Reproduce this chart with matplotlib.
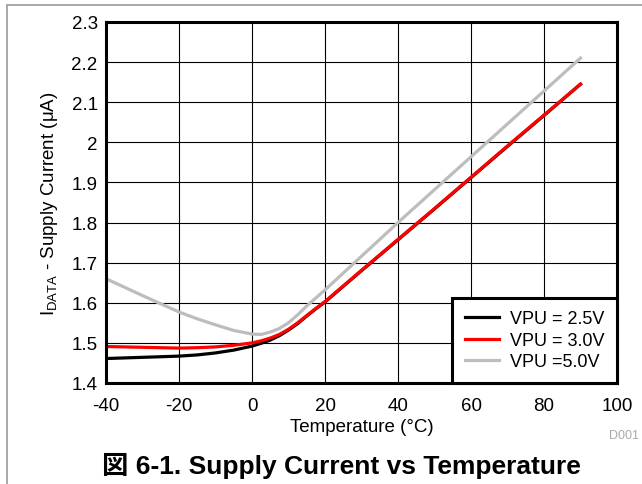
import matplotlib.pyplot as plt
from matplotlib.patches import Rectangle
from matplotlib.ticker import FuncFormatter

plt.rcParams['font.family'] = ['Liberation Sans', 'Noto Sans CJK JP', 'DejaVu Sans']
plt.rcParams['mathtext.fontset'] = 'custom'
plt.rcParams['mathtext.rm'] = 'Liberation Sans'
plt.rcParams['mathtext.it'] = 'Liberation Sans:italic'
plt.rcParams['axes.unicode_minus'] = False

# temperature points (°C)
temp = [-40, -30, -20, -15, -10, -5, 0, 2.5, 5, 7.5, 10, 12.5, 15, 17.5, 20,
        25, 30, 40, 50, 60, 70, 80, 90]

# supply current (uA) for each pull-up voltage
vpu_25 = [1.461, 1.464, 1.467, 1.470, 1.475, 1.482, 1.492, 1.499, 1.507, 1.518,
          1.532, 1.548, 1.567, 1.585, 1.602, 1.641, 1.680, 1.757, 1.834, 1.912,
          1.990, 2.067, 2.145]
vpu_30 = [1.491, 1.489, 1.487, 1.488, 1.490, 1.494, 1.500, 1.505, 1.512, 1.521,
          1.534, 1.550, 1.568, 1.586, 1.603, 1.642, 1.681, 1.758, 1.835, 1.913,
          1.991, 2.068, 2.145]
vpu_50 = [1.660, 1.618, 1.577, 1.560, 1.545, 1.531, 1.522, 1.521, 1.527, 1.536,
          1.550, 1.570, 1.592, 1.612, 1.632, 1.674, 1.716, 1.800, 1.882, 1.964,
          2.046, 2.128, 2.210]

labels = ["VPU = 2.5V", "VPU = 3.0V", "VPU =5.0V"]
colors = ["black", "#ff0000", "#bdbdbd"]

fig = plt.figure(figsize=(6.42, 4.85), dpi=100)
ax = fig.add_axes([106 / 642, 1 - 384 / 485, 511 / 642, 361 / 485])

lines = {}
# gray underneath, red on top of black
for i in [2, 0, 1]:
    vals = [vpu_25, vpu_30, vpu_50][i]
    lines[i], = ax.plot(temp, vals, color=colors[i], lw=2.3, label=labels[i])

ax.set_xlim(-40, 100)
ax.set_ylim(1.4, 2.3)
ax.set_xticks(range(-40, 101, 20))
ax.set_yticks([1.4 + 0.1 * i for i in range(10)])
ax.yaxis.set_major_formatter(FuncFormatter(lambda v, p: f"{v:.1f}".rstrip('0').rstrip('.')))
ax.tick_params(axis='x', length=0, labelsize=13.5, pad=10)
ax.tick_params(axis='y', length=0, labelsize=13.5, pad=6)
ax.grid(True, color='black', lw=0.8)
for s in ax.spines.values():
    s.set_linewidth(2.2)

ax.set_xlabel("Temperature (°C)", fontsize=13.5, labelpad=3)
ax.set_ylabel(r"I$_{\mathregular{DATA}}$ - Supply Current ($\mathregular{\mu}$A)",
              fontsize=13.5, labelpad=8)

leg = ax.legend([lines[0], lines[1], lines[2]], labels, loc='lower right', fontsize=13,
                fancybox=False, framealpha=1, edgecolor='black', borderaxespad=0,
                handlelength=1.9, labelspacing=0.25, borderpad=0.7, handletextpad=0.6)
leg.get_frame().set_linewidth(2.2)

fig.text(609 / 642, 1 - 436 / 485, "D001", color='#aaaaaa', fontsize=9, va='center')
fig.text(341 / 642, 1 - 466 / 485, "図 6-1. Supply Current vs Temperature",
         fontsize=19, fontweight='bold', ha='center', va='center')

fig.patches.append(Rectangle((7 / 642, -0.1), 1.2, 1 - 6 / 485 + 0.1,
                             transform=fig.transFigure, fill=False,
                             edgecolor='#999999', lw=1.2))

fig.savefig("out.png", dpi=100)
